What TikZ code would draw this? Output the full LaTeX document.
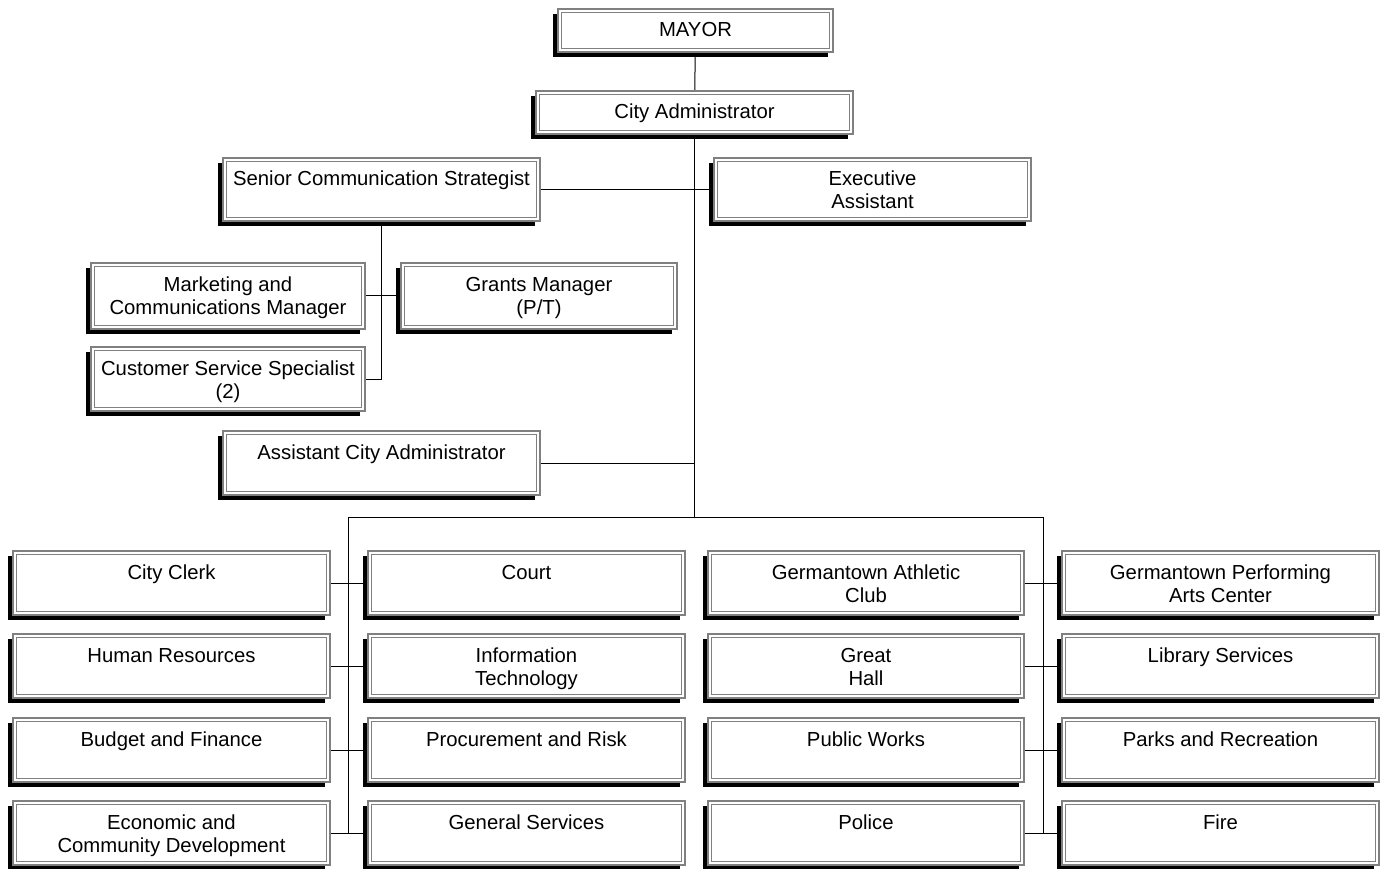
\documentclass[tikz,border=0pt]{standalone}
\usepackage{fontspec}
\setmainfont{Liberation Sans}
\usetikzlibrary{shadows,backgrounds}

\tikzset{
  orgbox/.style={rectangle, inner sep=0pt, outer sep=0pt, fill=white,
    draw=gray, line width=2pt,
    general shadow={fill=black, shadow xshift=-5pt, shadow yshift=-5pt}},
  innerframe/.style={draw=gray, line width=1pt},
  link/.style={draw=black, line width=1pt}
}

% \ob{name}{x1}{y1}{x2}{y2}{text}: box given by its outer edges (y grows downward)
\newcommand\ob[6]{%
  \pgfmathsetmacro{\obcx}{(#2+#4)/2}%
  \pgfmathsetmacro{\obcy}{(#3+#5)/2}%
  \pgfmathsetmacro{\obw}{#4-#2-2}%
  \pgfmathsetmacro{\obh}{#5-#3-2}%
  \node[orgbox] (#1) at (\obcx,\obcy)
    {\parbox[c][\obh pt][t]{\obw pt}{\centering\fontsize{20.3}{23}\selectfont
      \rule{0pt}{28pt}#6}};%
  \draw[innerframe] ([shift={(3.2pt,-3.2pt)}]#1.north west)
    rectangle ([shift={(-3.2pt,3.2pt)}]#1.south east);%
}

\begin{document}
\begin{tikzpicture}[x=1pt, y=-1pt]
\useasboundingbox (0,0) rectangle (1385,869);

% top of the chart
\ob{mayor}{557}{8}{834}{53}{MAYOR}
\ob{cadmin}{535}{90}{854}{135}{City Administrator}
\ob{scs}{222}{157}{541}{222}{Senior Communication Strategist}
\ob{exa}{713}{157}{1032}{222}{Executive\\Assistant}
\ob{mcm}{90}{262}{366}{330}{Marketing and\\Communications Manager}
\ob{grants}{400}{262}{678}{330}{Grants Manager\\(P/T)}
\ob{css}{90}{346}{366}{412}{Customer Service Specialist\\(2)}
\ob{aca}{222}{430}{541}{496}{Assistant City Administrator}

% departments, four columns by four rows
\ob{clerk}{12}{550}{331}{616}{City Clerk}
\ob{hr}{12}{633}{331}{699}{Human Resources}
\ob{budget}{12}{717}{331}{783}{Budget and Finance}
\ob{econ}{12}{800}{331}{866}{Economic and\\Community Development}

\ob{court}{367}{550}{686}{616}{Court}
\ob{it}{367}{633}{686}{699}{Information\\Technology}
\ob{proc}{367}{717}{686}{783}{Procurement and Risk}
\ob{gensvc}{367}{800}{686}{866}{General Services}

\ob{gac}{707}{550}{1025}{616}{Germantown Athletic\\Club}
\ob{hall}{707}{633}{1025}{699}{Great\\Hall}
\ob{pw}{707}{717}{1025}{783}{Public Works}
\ob{police}{707}{800}{1025}{866}{Police}

\ob{gpac}{1061}{550}{1380}{616}{Germantown Performing\\Arts Center}
\ob{lib}{1061}{633}{1380}{699}{Library Services}
\ob{parks}{1061}{717}{1380}{783}{Parks and Recreation}
\ob{fire}{1061}{800}{1380}{866}{Fire}

\coordinate (busL) at (348.5,517);
\coordinate (busR) at (1043,517);

\begin{scope}[on background layer]
  \draw[link] (mayor) -- (cadmin);
  \draw[link] (cadmin.south) -- (cadmin.south |- busL);
  \draw[link] (scs) -- (exa);
  \draw[link] (scs.south) -- (scs.south |- css.east) -- (css.east);
  \draw[link] (mcm) -- (grants);
  \draw[link] (aca.east) -- (cadmin.south |- aca.east);
  \draw[link] (busL) -- (busR);
  \draw[link] (busL) -- (busL |- econ.east);
  \draw[link] (busR) -- (busR |- police.east);
  \draw[link] (clerk) -- (court);
  \draw[link] (hr) -- (it);
  \draw[link] (budget) -- (proc);
  \draw[link] (econ) -- (gensvc);
  \draw[link] (gac) -- (gpac);
  \draw[link] (hall) -- (lib);
  \draw[link] (pw) -- (parks);
  \draw[link] (police) -- (fire);
\end{scope}
\end{tikzpicture}
\end{document}
